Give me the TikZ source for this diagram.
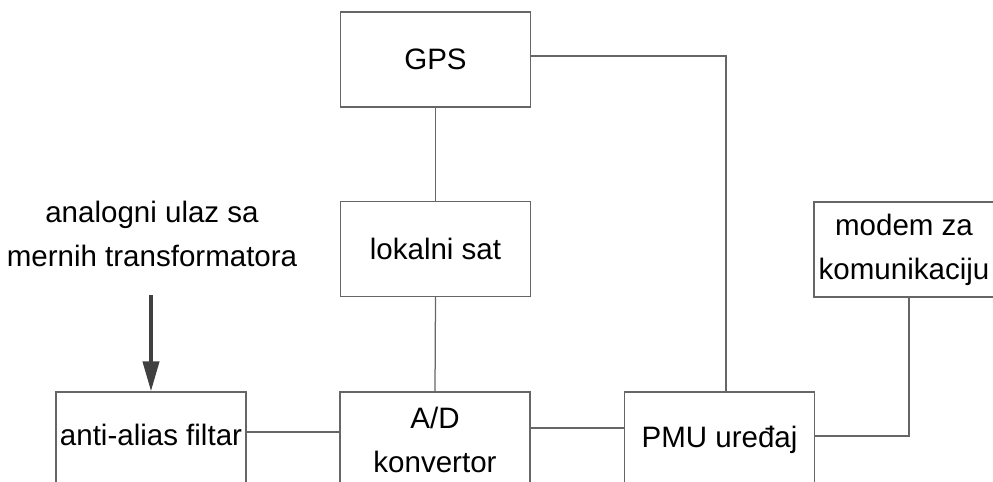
\documentclass[tikz,border=0pt]{standalone}
\usepackage{fontspec}
\setmainfont{Liberation Sans}
\usetikzlibrary{arrows.meta}
\begin{document}
\begin{tikzpicture}[x=0.2mm,y=-0.2mm,
	blok/.style={draw=black!60,line width=0.25mm,inner sep=0pt,minimum width=38mm,minimum height=19mm,align=center},
	veza/.style={draw=black!60,line width=0.25mm},
	font=\fontsize{16.8pt}{25pt}\selectfont]
			\clip (0,0) rectangle (993,481);
			\node[blok] (gps) at(435.5,59.5){GPS};
			\node[blok] (sat) at(435.5,249){lokalni sat};
			\node[blok,text depth=2mm] (filter) at(151,439.5){anti-alias filtar};
			\node[blok] (ad) at(435,439.5){A/D\\konvertor};
			\node[blok] (pmu) at(719.5,439.5){PMU uređaj};
			\node[blok,minimum width=36mm] (modem) at(904,249.5){modem za\\komunikaciju};
			\node[align=center] (ulaz) at(152,234){analogni ulaz sa\\mernih transformatora};
			\coordinate (ulazkraj) at(151,295);
			\draw[black!75,line width=0.8mm,-{Triangle[length=6mm,width=3.2mm]}](ulazkraj)--(filter.north);
			\draw[veza](gps.south)--(sat.north);
			\draw[veza](sat.south)--(ad.north);
			\draw[veza]([yshift=1.5mm]filter.east)--([yshift=1.5mm]ad.west);
			\draw[veza]([yshift=2.3mm]ad.east)--([yshift=2.3mm]pmu.west);
			\draw[veza]([yshift=0.7mm]gps.east)-|([xshift=1.3mm]pmu.north);
			\draw[veza]([yshift=0.7mm]pmu.east)-|([xshift=1mm]modem.south);
\end{tikzpicture}
\end{document}
